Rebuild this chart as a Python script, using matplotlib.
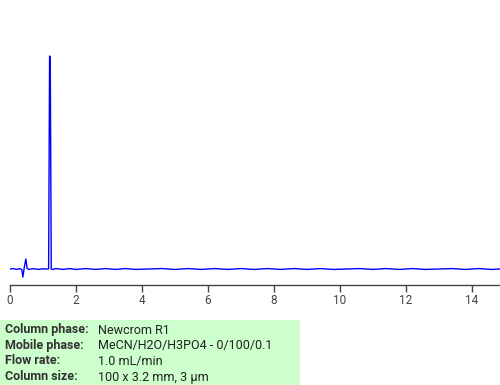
import matplotlib.pyplot as plt
from matplotlib.patches import Rectangle

plt.rcParams['font.family'] = ['Roboto', 'DejaVu Sans']

# chromatogram trace (time in min, signal in arbitrary units)
times = [0.0, 0.10, 0.20, 0.30, 0.36, 0.39, 0.43, 0.48, 0.52, 0.58, 0.70, 0.85, 1.00,
         1.12, 1.17, 1.20, 1.22, 1.25, 1.28, 1.40, 1.60, 1.80, 2.00, 2.30, 2.60, 2.90,
         3.20, 3.50, 3.80, 4.20, 4.60, 5.00, 5.40, 5.80, 6.20, 6.60, 7.00, 7.40, 7.80,
         8.20, 8.60, 9.00, 9.40, 9.80, 10.20, 10.60, 11.00, 11.40, 11.80, 12.20, 12.60,
         13.00, 13.40, 13.80, 14.20, 14.60, 14.85]
signal = [0, 2, -2, 2, -4, -38, 5, 47, 2, -2, 2, -2, 1,
          0, 1, 1000, 990, 0, -2, 2, -2, 2, -2, 2, -2, 2,
          -2, 2, -2, 0, 2, -2, 2, -2, 2, -2, 2, -2, 2,
          -2, 2, -2, 2, -2, 0, 2, -2, 2, -2, 2, -2,
          0, 2, -2, 2, -2, 0]

xticks = [0, 2, 4, 6, 8, 10, 12, 14]

info_labels = ['Column phase:', 'Mobile phase:', 'Flow rate:', 'Column size:']
info_values = ['Newcrom R1', 'MeCN/H2O/H3PO4 - 0/100/0.1', '1.0 mL/min', '100 x 3.2 mm, 3 µm']

W, H = 500, 385
fig = plt.figure(figsize=(W / 100, H / 100), dpi=100)
ax = fig.add_axes([10 / W, (H - 285) / H, 490 / W, 245 / H])

ax.plot(times, signal, color='#0000ff', lw=1.0)
ax.set_xlim(0, 14.85)
# baseline at 16 px above the axis, peak 213 px above baseline
ax.set_ylim(-75.1, 1075)

for s in ['top', 'right', 'left']:
    ax.spines[s].set_visible(False)
ax.spines['bottom'].set_color('#444444')
ax.spines['bottom'].set_linewidth(1.0)
ax.set_yticks([])
ax.set_xticks(xticks)
ax.set_xticklabels([str(t) for t in xticks])
ax.tick_params(axis='x', colors='#444444', labelsize=8.5, length=5, width=1, pad=1.5)

# info box
fig.patches.append(Rectangle((0, 0), 300 / W, 65 / H, transform=fig.transFigure,
                             facecolor='#ccffcc', edgecolor='none'))
ys = [330, 346, 361, 377]
for lab, val, y in zip(info_labels, info_values, ys):
    fig.text(5 / W, 1 - y / H, lab, fontsize=9, fontweight='bold', color='#333333', va='center')
    fig.text(98 / W, 1 - y / H, val, fontsize=9, color='#222222', va='center')

fig.savefig('out.png', dpi=100)
